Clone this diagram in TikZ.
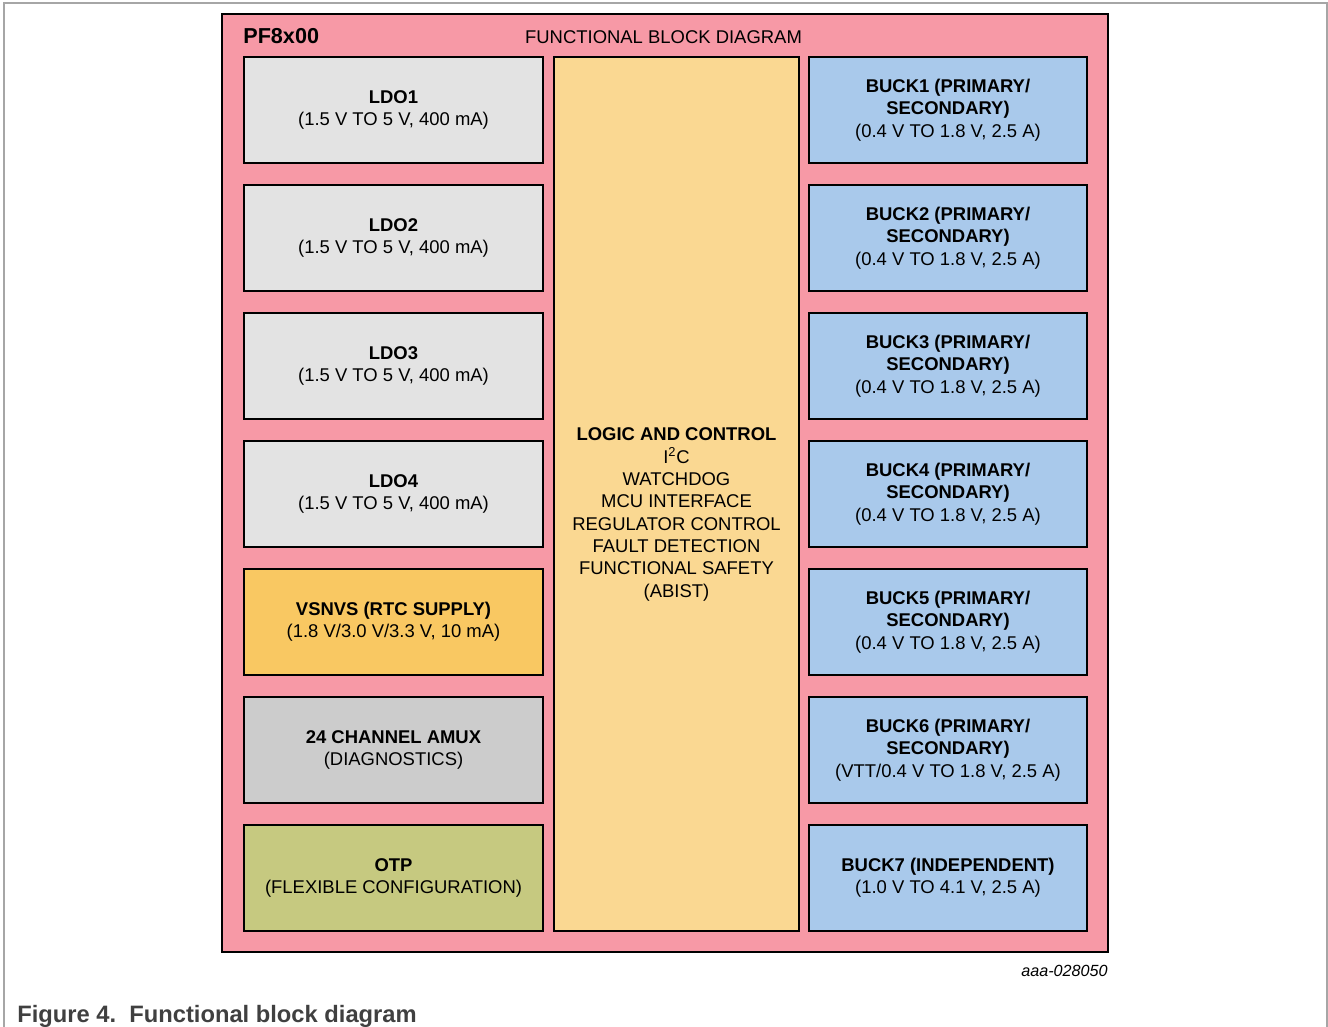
\documentclass[tikz,border=0pt]{standalone}
\usepackage{fontspec}
\setmainfont{Liberation Sans}
\usetikzlibrary{positioning}
\definecolor{framepink}{HTML}{F799A6}
\definecolor{ldogray}{HTML}{E3E3E3}
\definecolor{rtcorange}{HTML}{F9C862}
\definecolor{amuxgray}{HTML}{CCCCCC}
\definecolor{otpgreen}{HTML}{C6C980}
\definecolor{logicyellow}{HTML}{FAD892}
\definecolor{buckblue}{HTML}{A9C9EB}
\definecolor{capgray}{HTML}{404040}
\definecolor{edgegray}{HTML}{A6A6A6}
\tikzset{
  txt/.style={align=center,inner sep=0pt,font=\fontsize{10.5}{12.7}\selectfont},
  blk/.style={txt,draw,line width=1.2pt,fill=#1},
  lblk/.style={blk=#1,minimum width=5.98cm,minimum height=2.12cm},
  rblk/.style={blk=buckblue,minimum width=5.56cm,minimum height=2.12cm}
}

\begin{document}
\begin{tikzpicture}[x=0.02cm,y=-0.02cm]
\useasboundingbox (0,0) rectangle (1328,1027);
\draw[edgegray,line width=0.7pt] (4,1027) -- (4,3) -- (1327,3) -- (1327,1027);
\node[draw,fill=framepink,line width=0.8pt,minimum width=17.72cm,minimum height=18.76cm] (frame) at(665,483) {};
\node[font=\fontsize{12.3}{14}\selectfont\bfseries,anchor=base west,inner sep=0pt] (pf) at(243,44) {PF8x00};
\node[font=\fontsize{10.5}{12.7}\selectfont,anchor=base,inner sep=0pt] (title) at(663.5,44) {FUNCTIONAL BLOCK DIAGRAM};
% left column
\node[lblk=ldogray] (ldo1) at(393.5,110) {\textbf{LDO1}\\(1.5 V TO 5 V, 400 mA)};
\node[lblk=ldogray] (ldo2) at(393.5,238) {\textbf{LDO2}\\(1.5 V TO 5 V, 400 mA)};
\node[lblk=ldogray] (ldo3) at(393.5,366) {\textbf{LDO3}\\(1.5 V TO 5 V, 400 mA)};
\node[lblk=ldogray] (ldo4) at(393.5,494) {\textbf{LDO4}\\(1.5 V TO 5 V, 400 mA)};
\node[lblk=rtcorange] (vsnvs) at(393.5,622) {\textbf{VSNVS (RTC SUPPLY)}\\(1.8 V/3.0 V/3.3 V, 10 mA)};
\node[lblk=amuxgray] (amux) at(393.5,750) {\textbf{24 CHANNEL AMUX}\\(DIAGNOSTICS)};
\node[lblk=otpgreen] (otp) at(393.5,878) {\textbf{OTP}\\(FLEXIBLE CONFIGURATION)};
% middle
\node[blk=logicyellow,minimum width=4.9cm,minimum height=17.48cm] (logic) at(676.5,494) {};
\node[txt] (logictxt) at(676.5,514.5) {\textbf{LOGIC AND CONTROL}\\I\textsuperscript{2}C\\WATCHDOG\\MCU INTERFACE\\REGULATOR CONTROL\\FAULT DETECTION\\FUNCTIONAL SAFETY\\(ABIST)};
% right column
\node[rblk] (buck1) at(948,110) {\textbf{BUCK1 (PRIMARY/}\\\textbf{SECONDARY)}\\(0.4 V TO 1.8 V, 2.5 A)};
\node[rblk] (buck2) at(948,238) {\textbf{BUCK2 (PRIMARY/}\\\textbf{SECONDARY)}\\(0.4 V TO 1.8 V, 2.5 A)};
\node[rblk] (buck3) at(948,366) {\textbf{BUCK3 (PRIMARY/}\\\textbf{SECONDARY)}\\(0.4 V TO 1.8 V, 2.5 A)};
\node[rblk] (buck4) at(948,494) {\textbf{BUCK4 (PRIMARY/}\\\textbf{SECONDARY)}\\(0.4 V TO 1.8 V, 2.5 A)};
\node[rblk] (buck5) at(948,622) {\textbf{BUCK5 (PRIMARY/}\\\textbf{SECONDARY)}\\(0.4 V TO 1.8 V, 2.5 A)};
\node[rblk] (buck6) at(948,750) {\textbf{BUCK6 (PRIMARY/}\\\textbf{SECONDARY)}\\(VTT/0.4 V TO 1.8 V, 2.5 A)};
\node[rblk] (buck7) at(948,878) {\textbf{BUCK7 (INDEPENDENT)}\\(1.0 V TO 4.1 V, 2.5 A)};
% labels under the frame
\node[font=\fontsize{9.2}{11}\selectfont\itshape,anchor=base east,inner sep=0pt] (docid) at(1108,976) {aaa-028050};
\node[font=\fontsize{13.5}{16}\selectfont\bfseries,text=capgray,anchor=base west,inner sep=0pt] (caption) at(17,1022) {Figure 4.\ \ Functional block diagram};
\end{tikzpicture}
\end{document}
